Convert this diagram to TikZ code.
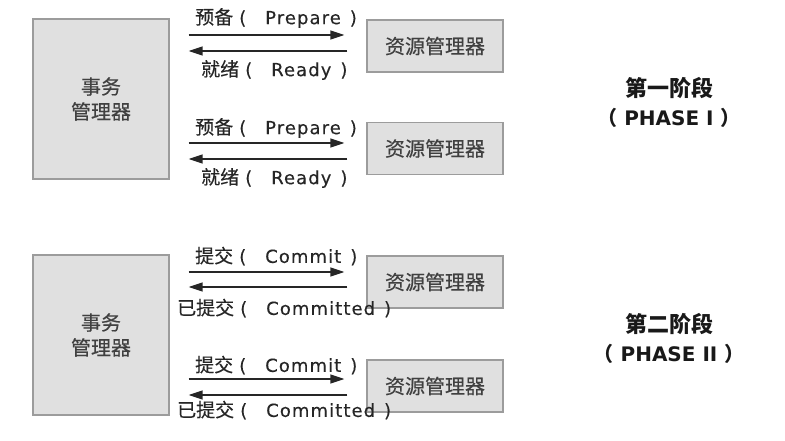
\documentclass[tikz,border=0pt]{standalone}
\usepackage{fontspec}
\setmainfont{DejaVu Sans}
\newfontfamily\cjk{Noto Sans CJK SC}
\newfontfamily\cjkmid[FakeBold=0.4]{Noto Sans CJK SC}
\newfontfamily\lblfont[LetterSpace=6,FakeBold=0.3]{DejaVu Sans}
\newcommand{\zh}[1]{{\cjkmid\fontsize{19}{22}\selectfont #1}}
\newcommand{\msgtext}[2]{\zh{#1}\hspace{6pt}(\hspace{19pt}#2\hspace{9pt})}
\usetikzlibrary{arrows.meta}
\definecolor{boxfill}{HTML}{E0E0E0}
\definecolor{boxline}{HTML}{9C9C9C}
\tikzset{
    mgrbox/.style={draw=boxline, line width=1.3pt, fill=boxfill, text=black!75, inner sep=0pt},
    tmbox/.style={mgrbox, minimum width=136pt, minimum height=160pt, align=center,
        font=\fontsize{20}{25}\selectfont\cjkmid},
    rmbox/.style={mgrbox, minimum width=136pt, minimum height=52pt,
        font=\fontsize{20}{24}\selectfont\cjkmid},
    msg/.style={draw=black!85, line width=1.5pt, -{Triangle[length=14pt,width=9pt]}},
    lbl/.style={text=black!85, inner sep=0pt, anchor=west, font=\fontsize{18}{22}\selectfont\lblfont},
    phase/.style={text=black!90, align=center, inner sep=0pt,
        font=\fontsize{20}{29}\selectfont\bfseries}
}

\begin{document}
\begin{tikzpicture}[x=1pt, y=-1pt]
    \useasboundingbox (0,0) rectangle (785,441);

    % phase I
    \node[tmbox] (tm1) at (101,99) {事务\\管理器};
    \node[rmbox] (rm1) at (435,46) {资源管理器};
    \node[rmbox] (rm2) at (435,148.5) {资源管理器};

    \draw[msg, shorten <=19pt, shorten >=22pt] (tm1.east |- 0,35) -- (rm1.west |- 0,35);
    \draw[msg, shorten <=19pt, shorten >=19pt] (rm1.west |- 0,51) -- (tm1.east |- 0,51);
    \draw[msg, shorten <=19pt, shorten >=22pt] (tm1.east |- 0,143) -- (rm2.west |- 0,143);
    \draw[msg, shorten <=19pt, shorten >=19pt] (rm2.west |- 0,159) -- (tm1.east |- 0,159);

    \node[lbl] (prep1) at (195,18) {\msgtext{预备}{Prepare}};
    \node[lbl] (ready1) at (201,70) {\msgtext{就绪}{Ready}};
    \node[lbl] (prep2) at (195,128) {\msgtext{预备}{Prepare}};
    \node[lbl] (ready2) at (201,178) {\msgtext{就绪}{Ready}};

    \node[phase] (ph1) at (669,102) {{\cjk\fontsize{22}{29}\selectfont 第一阶段}\\{\cjk（} PHASE I {\cjk）}};

    % phase II
    \node[tmbox] (tm2) at (101,335) {事务\\管理器};
    \node[rmbox] (rm3) at (435,282) {资源管理器};
    \node[rmbox] (rm4) at (435,386) {资源管理器};

    \draw[msg, shorten <=19pt, shorten >=22pt] (tm2.east |- 0,272) -- (rm3.west |- 0,272);
    \draw[msg, shorten <=19pt, shorten >=19pt] (rm3.west |- 0,287) -- (tm2.east |- 0,287);
    \draw[msg, shorten <=19pt, shorten >=22pt] (tm2.east |- 0,379) -- (rm4.west |- 0,379);
    \draw[msg, shorten <=19pt, shorten >=19pt] (rm4.west |- 0,395) -- (tm2.east |- 0,395);

    \node[lbl] (commit1) at (195,256) {\msgtext{提交}{Commit}};
    \node[lbl] (done1) at (177,308) {\msgtext{已提交}{Committed}};
    \node[lbl] (commit2) at (195,365) {\msgtext{提交}{Commit}};
    \node[lbl] (done2) at (177,410) {\msgtext{已提交}{Committed}};

    \node[phase] (ph2) at (669,338) {{\cjk\fontsize{22}{29}\selectfont 第二阶段}\\{\cjk（} PHASE II {\cjk）}};
\end{tikzpicture}
\end{document}
